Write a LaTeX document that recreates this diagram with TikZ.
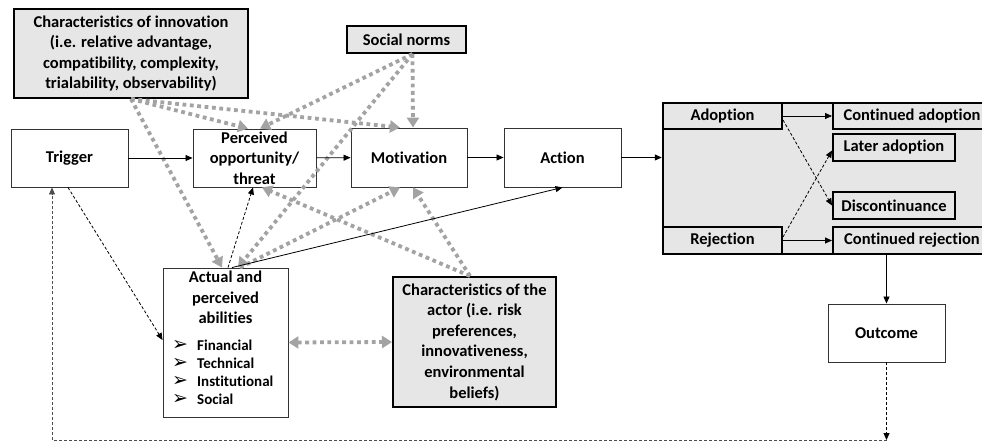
\documentclass[tikz,border=0pt]{standalone}
\usepackage{fontspec}
\setmainfont{Carlito}[Ligatures=NoCommon]
\newfontfamily\symfont{DejaVu Sans}
\usetikzlibrary{arrows.meta}
\definecolor{boxgray}{HTML}{E6E6E6}
\definecolor{dotgray}{HTML}{A3A3A3}
\begin{document}
\begin{tikzpicture}[x=1pt,y=-1pt,
  every node/.style={font=\bfseries\fontsize{16.5}{20.6}\selectfont, inner sep=0pt, align=center},
  whitebox/.style={draw=black!80, line width=0.9pt, fill=white},
  shadebox/.style={draw=black, line width=2pt, fill=boxgray},
  bul/.style={font=\bfseries\fontsize{15}{18}\selectfont, anchor=west},
  sym/.style={font=\symfont\fontsize{19}{20}\selectfont},
  arr/.style={line width=0.8pt, -{Triangle[length=7pt,width=6pt]}},
  darr/.style={arr, dash pattern=on 3pt off 2pt},
  garr/.style={draw=dotgray, line width=3.8pt, dash pattern=on 3.8pt off 3.6pt, -{Triangle[length=10pt,width=12pt]}},
]
\useasboundingbox (0,0) rectangle (982,443);

% nodes
\node[shadebox, minimum width=234pt, minimum height=89pt] (ci) at (131,53.5) {Characteristics of innovation\\(i.e. relative advantage,\\compatibility, complexity,\\trialability, observability)};
\node[shadebox, minimum width=119pt, minimum height=27pt] (sn) at (406.5,39.5) {Social norms};
\node[whitebox, minimum width=117pt, minimum height=58pt] (trigger) at (69.5,158) {Trigger};
\node[whitebox, minimum width=123pt, minimum height=58pt] (perc) at (254.5,158) {Perceived\\opportunity/\\threat};
\node[whitebox, minimum width=116pt, minimum height=59pt] (mot) at (409,157.5) {Motivation};
\node[whitebox, minimum width=117pt, minimum height=59pt] (act) at (562.5,157.5) {Action};
\node[shadebox, line width=2.5pt, minimum width=321pt, minimum height=151pt] (big) at (823.5,178.5) {};
\node[shadebox, minimum width=119pt, minimum height=26pt] (adop) at (722.5,116) {Adoption};
\node[shadebox, minimum width=119pt, minimum height=27pt] (rej) at (722.5,240.5) {Rejection};
\node[shadebox, minimum width=158pt, minimum height=26pt] (cadop) at (912,116) {Continued adoption};
\node[shadebox, minimum width=122pt, minimum height=27pt] (later) at (894,147.5) {Later adoption};
\node[shadebox, minimum width=122pt, minimum height=27pt] (disc) at (894,205.5) {Discontinuance};
\node[shadebox, minimum width=158pt, minimum height=27pt] (crej) at (912,240.5) {Continued rejection};
\node[whitebox, minimum width=117pt, minimum height=58pt] (out) at (886.5,333) {Outcome};
\node[whitebox, minimum width=125pt, minimum height=149pt] (abil) at (225.5,342.5) {};
\node (abilt) at (225.5,297.5) {Actual and\\perceived\\abilities};
\node[sym] (s1) at (180,345) {➢};
\node[sym] (s2) at (180,363) {➢};
\node[sym] (s3) at (180,381) {➢};
\node[sym] (s4) at (180,399) {➢};
\node[bul] (b1) at (197,345) {Financial};
\node[bul] (b2) at (197,363) {Technical};
\node[bul] (b3) at (197,381) {Institutional};
\node[bul] (b4) at (197,399) {Social};
\node[shadebox, minimum width=163pt, minimum height=130pt] (ca) at (474.5,342) {Characteristics of the\\actor (i.e. risk\\preferences,\\innovativeness,\\environmental\\beliefs)};

\coordinate (corner) at (886.5,440);
\coordinate (fbl) at (52,440);

% grey dotted influences
\draw[garr] (ci.south) -- ([xshift=-6.5pt]perc.north);
\draw[garr] (ci.south) -- ([xshift=-9pt]mot.north);
\draw[garr] (ci.south) -- ([xshift=-3.5pt]abil.north);
\draw[garr] ([xshift=6pt]sn.south) -- ([xshift=5.5pt]perc.north);
\draw[garr] ([xshift=6pt]sn.south) -- ([xshift=4pt]mot.north);
\draw[garr] ([xshift=6pt]sn.south) -- ([xshift=12.5pt]abil.north);
\draw[garr] ([xshift=14.5pt]abil.north) -- ([xshift=-9pt]mot.south);
\draw[garr] ([xshift=-4.5pt]ca.north) -- ([xshift=7.5pt]perc.south);
\draw[garr] ([xshift=-4.5pt]ca.north) -- ([xshift=4pt]mot.south);
\draw[garr, {Triangle[length=10pt,width=12pt]}-{Triangle[length=10pt,width=12pt]}] (abil.east) -- (ca.west);

% black connectors
\draw[arr] (trigger) -- (perc);
\draw[arr] (perc) -- (mot);
\draw[arr] (mot) -- (act);
\draw[arr] (act.east) -- (act.east -| big.west);
\draw[arr] (adop.east) -- (cadop.west);
\draw[arr] (rej.east) -- (crej.west);
\draw[darr] ([yshift=-4pt]adop.east) -- (disc.west);
\draw[darr] ([yshift=3.5pt]rej.east) -- ([yshift=-3pt]later.west);
\draw[arr] (out.north |- big.south) -- (out.north);
\draw[darr] (out.south) -- (corner);
\draw[darr, draw=black!70] (corner) -- (fbl) -- (fbl |- trigger.south);
\draw[darr] ([xshift=-1.5pt]trigger.south) -- ([yshift=2.5pt]abil.west);
\draw[arr] ([xshift=6.5pt]abil.north) -- (act.south);
\draw[darr] ([xshift=2.5pt]abil.north) -- ([xshift=-1.5pt]perc.south);
\end{tikzpicture}
\end{document}
